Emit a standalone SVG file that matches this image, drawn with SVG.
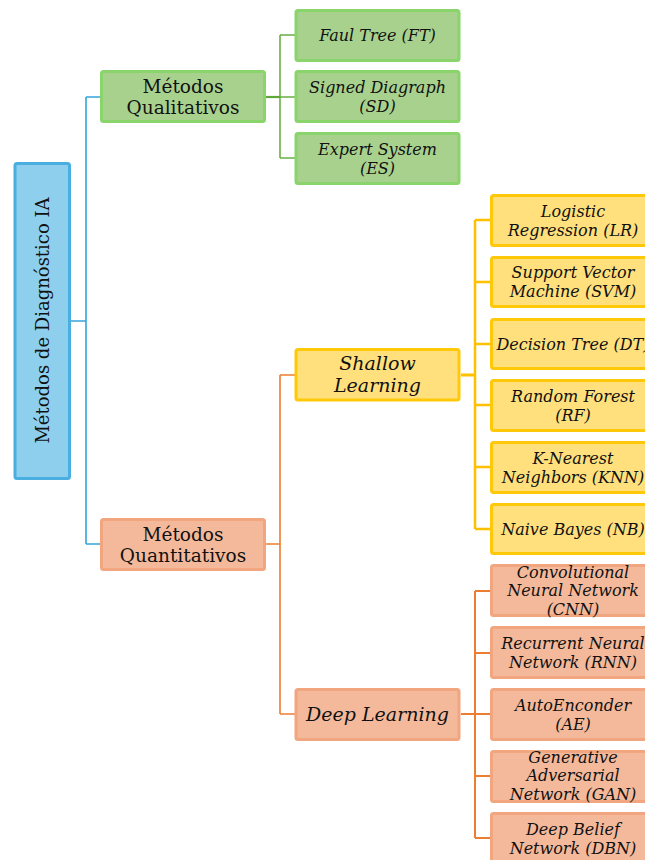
<svg xmlns="http://www.w3.org/2000/svg" width="645" height="860" viewBox="0 0 645 860">
<style>
text{font-family:"DejaVu Serif","Liberation Serif",serif;fill:#111;text-anchor:middle}
.n{font-size:18.5px}
.i{font-size:16px;font-style:italic}
.m{font-size:19px;font-style:italic}
.r{font-size:18px}
rect{stroke-width:3}
.blue{fill:#8DCFEC;stroke:#4BAEE0}
.green{fill:#A9D18E;stroke:#8AD46C}
.yellow{fill:#FFE07D;stroke:#FFC90A}
.orange{fill:#F4B99B;stroke:#F1A67F}
.c{fill:none;stroke-linejoin:miter}
</style>
<rect width="645" height="860" fill="#fff" style="stroke:none"/>
<g id="connectors">
<path class="c" stroke="#34A4DA" stroke-width="1.6" d="M71 321H86M86 97V544M86 97H100M86 544H100"/>
<path class="c" stroke="#6AAF45" stroke-width="1.6" d="M280 35V158M280 35H295M280 97H295M280 158H295"/>
<path class="c" stroke="#5DA838" stroke-width="2.2" d="M266 97H280"/>
<path class="c" stroke="#ED7D31" stroke-width="1.6" d="M266 544H280M280 375V714M280 375H295M280 714H295"/>
<path class="c" stroke="#FFC000" stroke-width="3" d="M461 375H475"/>
<path class="c" stroke="#FFC000" stroke-width="2.5" d="M475 220V529M475 220H490M475 282H490M475 344H490M475 405H490M475 467H490M475 529H490"/>
<path class="c" stroke="#ED7D31" stroke-width="2" d="M461 714H475M475 591V838M475 591H490M475 653H490M475 714H490M475 776H490M475 838H490"/>
</g>
<g id="root"><rect class="blue" x="15" y="163.5" width="54.5" height="315" rx="2"/><text class="r" transform="translate(48.5,320.5) rotate(-90)">Métodos de Diagnóstico IA</text></g>
<g id="qual"><rect class="green" x="101.5" y="71.5" width="163" height="50" rx="2"/><text class="n" x="183" y="93">Métodos</text><text class="n" x="183" y="114">Qualitativos</text></g>
<g id="quant"><rect class="orange" x="101.5" y="519.5" width="163" height="50" rx="2"/><text class="n" x="183" y="541">Métodos</text><text class="n" x="183" y="562">Quantitativos</text></g>
<g id="ft"><rect class="green" x="296" y="10.5" width="163" height="50" rx="2"/><text class="i" x="377.5" y="41">Faul Tree (FT)</text></g>
<g id="sd"><rect class="green" x="296" y="71.5" width="163" height="50" rx="2"/><text class="i" x="377.5" y="93">Signed Diagraph</text><text class="i" x="377.5" y="112">(SD)</text></g>
<g id="es"><rect class="green" x="296" y="133.5" width="163" height="50" rx="2"/><text class="i" x="377.5" y="155">Expert System</text><text class="i" x="377.5" y="174">(ES)</text></g>
<g id="shallow"><rect class="yellow" x="296" y="349.5" width="163" height="50.5" rx="2"/><text class="m" x="377.5" y="370">Shallow</text><text class="m" x="377.5" y="392">Learning</text></g>
<g id="deep"><rect class="orange" x="296" y="689.5" width="163" height="50" rx="2"/><text class="m" x="377.5" y="721">Deep Learning</text></g>
<g id="lr"><rect class="yellow" x="491.5" y="195.5" width="163" height="50" rx="2"/><text class="i" x="573" y="216.5">Logistic</text><text class="i" x="573" y="235.5">Regression (LR)</text></g>
<g id="svm"><rect class="yellow" x="491.5" y="257.5" width="163" height="49" rx="2"/><text class="i" x="573" y="278">Support Vector</text><text class="i" x="573" y="297">Machine (SVM)</text></g>
<g id="dt"><rect class="yellow" x="491.5" y="319.5" width="163" height="49" rx="2"/><text class="i" x="573" y="349.5">Decision Tree (DT)</text></g>
<g id="rf"><rect class="yellow" x="491.5" y="380.5" width="163" height="50" rx="2"/><text class="i" x="573" y="401.5">Random Forest</text><text class="i" x="573" y="420.5">(RF)</text></g>
<g id="knn"><rect class="yellow" x="491.5" y="442.5" width="163" height="50" rx="2"/><text class="i" x="573" y="463.5">K-Nearest</text><text class="i" x="573" y="482.5">Neighbors (KNN)</text></g>
<g id="nb"><rect class="yellow" x="491.5" y="504.5" width="163" height="49" rx="2"/><text class="i" x="573" y="534.5">Naive Bayes (NB)</text></g>
<g id="cnn"><rect class="orange" x="491.5" y="565.5" width="163" height="50" rx="2"/><text class="i" x="573" y="577.5">Convolutional</text><text class="i" x="573" y="596">Neural Network</text><text class="i" x="573" y="614.5">(CNN)</text></g>
<g id="rnn"><rect class="orange" x="491.5" y="627.5" width="163" height="50" rx="2"/><text class="i" x="573" y="648.5">Recurrent Neural</text><text class="i" x="573" y="667.5">Network (RNN)</text></g>
<g id="ae"><rect class="orange" x="491.5" y="689.5" width="163" height="50" rx="2"/><text class="i" x="573" y="710.5">AutoEnconder</text><text class="i" x="573" y="729.5">(AE)</text></g>
<g id="gan"><rect class="orange" x="491.5" y="751.5" width="163" height="50" rx="2"/><text class="i" x="573" y="763">Generative</text><text class="i" x="573" y="781">Adversarial</text><text class="i" x="573" y="799.5">Network (GAN)</text></g>
<g id="dbn"><rect class="orange" x="491.5" y="813.5" width="163" height="50" rx="2"/><text class="i" x="573" y="834.5">Deep Belief</text><text class="i" x="573" y="853.5">Network (DBN)</text></g>
</svg>
